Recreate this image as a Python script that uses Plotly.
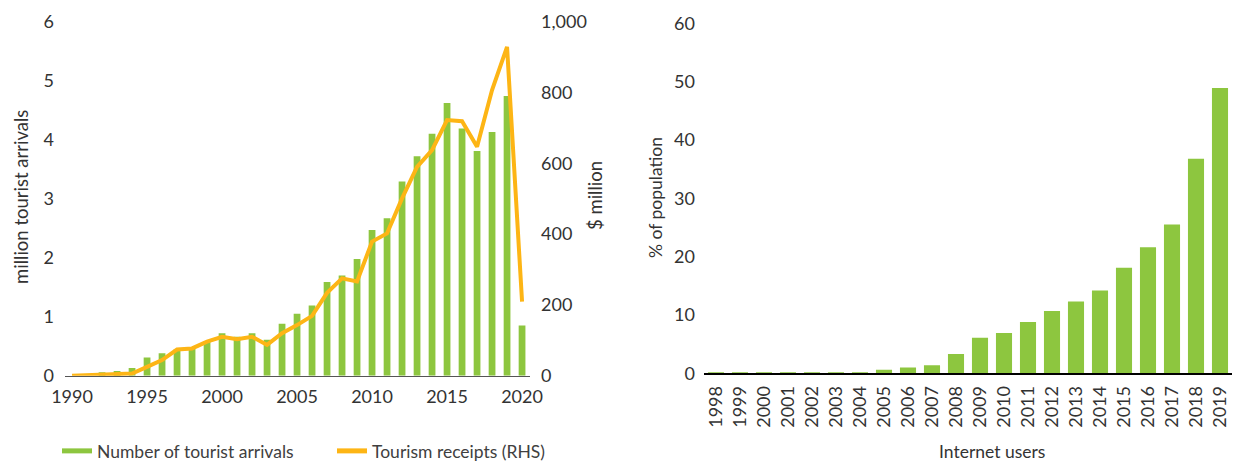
import plotly.graph_objects as go

# ---- Data ----
years_tour = list(range(1990, 2021))
arrivals_m = [None, None, 0.06, 0.08, 0.13, 0.31, 0.38, 0.45, 0.46, 0.58,
              0.72, 0.66, 0.72, 0.61, 0.88, 1.05, 1.19, 1.59, 1.70, 1.98,
              2.47, 2.67, 3.29, 3.72, 4.10, 4.62, 4.19, 3.81, 4.13, 4.74, 0.85]
receipts_musd = [0, 2, 3, 6, 6, 25, 44, 74, 77, 96,
                 110, 103, 110, 87, 120, 143, 169, 234, 275, 266,
                 379, 402, 501, 590, 637, 722, 719, 647, 807, 929, 209]

years_net = [str(y) for y in range(1998, 2020)]
internet_pct = [0.2, 0.2, 0.2, 0.2, 0.2, 0.2, 0.2, 0.6, 1.0, 1.4,
                3.3, 6.1, 6.9, 8.8, 10.7, 12.3, 14.2, 18.1, 21.6, 25.5,
                36.8, 48.9]

left_ticks = [1990, 1995, 2000, 2005, 2010, 2015, 2020]

GREEN = "#8DC63F"
ORANGE = "#FDB515"
TXT = "#333333"
FONT = "Lato"

W, H = 1238, 462

def px_x(p):
    return p / W

def px_y(p):
    return (H - p) / H

fig = go.Figure()

fig.add_trace(go.Bar(
    x=years_tour, y=arrivals_m, name="Number of tourist arrivals",
    marker=dict(color=GREEN, line=dict(width=0)), showlegend=False,
    xaxis="x", yaxis="y", width=0.45,
))
fig.add_trace(go.Scatter(
    x=years_tour, y=receipts_musd, name="Tourism receipts (RHS)",
    mode="lines", line=dict(color=ORANGE, width=4), showlegend=False,
    xaxis="x", yaxis="y2",
))
# legend proxies
fig.add_trace(go.Scatter(
    x=[None], y=[None], name="Number of tourist arrivals", mode="lines",
    line=dict(color=GREEN, width=5), xaxis="x", yaxis="y",
))
fig.add_trace(go.Scatter(
    x=[None], y=[None], name="Tourism receipts (RHS)", mode="lines",
    line=dict(color=ORANGE, width=5), xaxis="x", yaxis="y2",
))

fig.add_trace(go.Bar(
    x=years_net, y=internet_pct, name="Internet users",
    marker=dict(color=GREEN, line=dict(width=0)), showlegend=False,
    xaxis="x3", yaxis="y3", width=0.67,
))

tickfont = dict(family=FONT, size=18, color=TXT)

fig.update_layout(
    template="none",
    width=W, height=H,
    margin=dict(l=0, r=0, t=0, b=0, pad=0, autoexpand=False),
    paper_bgcolor="white", plot_bgcolor="white",
    font=dict(family=FONT, color=TXT),
    barmode="overlay",
    hovermode=False,
    xaxis=dict(
        domain=[px_x(65), px_x(530)],
        range=[1989.53, 2020.53],
        tickmode="array", tickvals=left_ticks,
        ticktext=[str(t) for t in left_ticks],
        tickfont=tickfont, showgrid=False, zeroline=False,
        showline=True, linecolor="#555555", linewidth=1.5,
        ticks="", anchor="y", automargin=False, ticklabelstandoff=4,
    ),
    yaxis=dict(
        domain=[px_y(375.7), px_y(21.7)],
        range=[0, 6], dtick=1,
        tickfont=tickfont, showgrid=False, zeroline=False,
        showline=False, ticks="", ticklabelstandoff=10,
        anchor="x", automargin=False,
    ),
    yaxis2=dict(
        domain=[px_y(375.7), px_y(21.7)],
        range=[0, 1000], dtick=200, tickformat=",",
        tickfont=tickfont, showgrid=False, zeroline=False,
        showline=False, ticks="", side="right", overlaying="y",
        anchor="x", ticklabelstandoff=10, automargin=False,
    ),
    xaxis3=dict(
        domain=[px_x(704), px_x(1232)],
        type="category", tickangle=-90,
        tickfont=tickfont, showgrid=False, zeroline=False,
        showline=True, linecolor="#000000", linewidth=1.5,
        ticks="", anchor="y3", automargin=False, ticklabelstandoff=4,
    ),
    yaxis3=dict(
        domain=[px_y(373.3), px_y(23.3)],
        range=[0, 60], dtick=10,
        tickfont=tickfont, showgrid=False, zeroline=False,
        showline=False, ticks="", ticklabelstandoff=8,
        anchor="x3", automargin=False,
    ),
    showlegend=True,
    legend=dict(
        orientation="h", x=px_x(57), xanchor="left",
        y=px_y(451), yanchor="middle",
        font=dict(family=FONT, size=17.5, color="#404040"),
        entrywidth=230, entrywidthmode="pixels",
        bgcolor="rgba(0,0,0,0)", borderwidth=0,
    ),
)

title_font_l = dict(family=FONT, size=18.5, color=TXT)
title_font_r = dict(family=FONT, size=17.5, color=TXT)
fig.add_annotation(text="million tourist arrivals", x=px_x(21), y=px_y(197),
                   xref="paper", yref="paper", textangle=-90, showarrow=False,
                   font=title_font_l, xanchor="center", yanchor="middle")
fig.add_annotation(text="$ million", x=px_x(595), y=px_y(196),
                   xref="paper", yref="paper", textangle=-90, showarrow=False,
                   font=title_font_l, xanchor="center", yanchor="middle")
fig.add_annotation(text="% of population", x=px_x(655), y=px_y(198),
                   xref="paper", yref="paper", textangle=-90, showarrow=False,
                   font=title_font_r, xanchor="center", yanchor="middle")
fig.add_annotation(text="Internet users", x=px_x(992), y=px_y(451),
                   xref="paper", yref="paper", showarrow=False,
                   font=title_font_r, xanchor="center", yanchor="middle")

fig.write_html("out.html",
               config={"displayModeBar": False, "staticPlot": True},
               post_script="document.body.style.margin='0';document.body.style.overflow='hidden';")
